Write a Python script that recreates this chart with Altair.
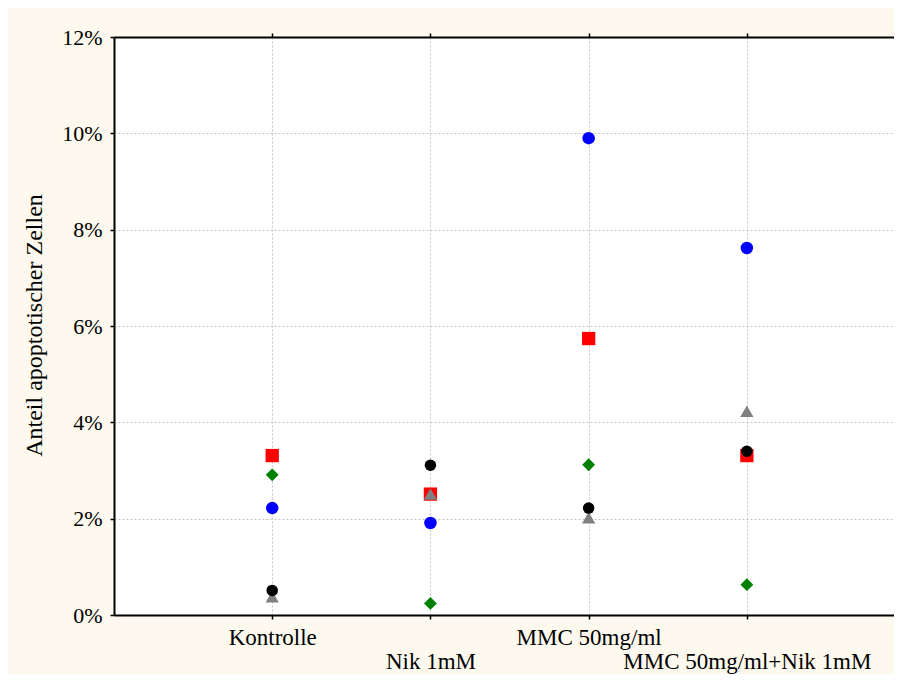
import altair as alt
import pandas as pd

categories = ["Kontrolle", "Nik 1mM", "MMC 50mg/ml", "MMC 50mg/ml+Nik 1mM"]
cat_pos = [1, 2, 3, 4]

# values in percent
blue_circle = [2.22, 1.91, 9.90, 7.62]
red_square = [3.31, 2.51, 5.74, 3.31]
green_diamond = [2.91, 0.24, 3.12, 0.63]
grey_triangle = [0.38, 2.51, 2.02, 4.23]
black_circle = [0.51, 3.11, 2.22, 3.40]

y_ticks = [0, 2, 4, 6, 8, 10, 12]

series = [
    ("blue", blue_circle, "circle", "#0000ff", 156),
    ("red", red_square, "square", "#ff0000", 177),
    ("green", green_diamond, "diamond", "#008000", 165),
    ("grey", grey_triangle, "triangle-up", "#808080", 177),
    ("black", black_circle, "circle", "#000000", 132),
]

FONT = "Liberation Serif"

label_expr = (
    "datum.value == 1 ? 'Kontrolle' : "
    "datum.value == 2 ? ['', 'Nik 1mM'] : "
    "datum.value == 3 ? 'MMC 50mg/ml' : "
    "datum.value == 4 ? ['', 'MMC 50mg/ml+Nik 1mM'] : ''"
)

x_scale = alt.Scale(domain=[0, 4.93], nice=False, zero=False)
y_scale = alt.Scale(domain=[0, 12], nice=False)

x_axis = alt.Axis(
    values=cat_pos, labelExpr=label_expr, title=None,
    grid=True, gridColor="#c4c4c4", gridDash=[2, 2], gridWidth=1,
    domainColor="black", domainWidth=2, tickColor="black", tickSize=4, tickWidth=1.5,
    labelFont=FONT, labelFontSize=23, labelColor="black", labelBaseline="alphabetic",
    labelPadding=25, labelLineHeight=24, labelOverlap=False, labelFlush=False, labelLimit=0,
)
y_axis = alt.Axis(
    values=y_ticks, labelExpr="datum.value + '%'", title="Anteil apoptotischer Zellen",
    grid=True, gridColor="#c4c4c4", gridDash=[2, 2], gridWidth=1,
    domainColor="black", domainWidth=2, tickColor="black", tickSize=4, tickWidth=1.5,
    labelFont=FONT, labelFontSize=22, labelColor="black", labelPadding=8, labelLimit=0,
    titleFont=FONT, titleFontSize=24, titleFontWeight="normal", titleColor="black",
    titleX=-73, titleY=288, titleBaseline="alphabetic", titleAngle=270,
)

layers = []
for i, (name, vals, shape, color, size) in enumerate(series):
    df = pd.DataFrame({"x": cat_pos, "y": vals, "cat": categories})
    if i == 0:
        enc_x = alt.X("x:Q", scale=x_scale, axis=x_axis)
        enc_y = alt.Y("y:Q", scale=y_scale, axis=y_axis)
    else:
        enc_x = alt.X("x:Q", scale=x_scale)
        enc_y = alt.Y("y:Q", scale=y_scale)
    layers.append(
        alt.Chart(df).mark_point(filled=True, shape=shape, color=color, size=size, opacity=1)
        .encode(x=enc_x, y=enc_y)
    )

points = alt.layer(*layers)

# top frame axis
top_df = pd.DataFrame({"x": cat_pos})
top = alt.Chart(top_df).mark_point(opacity=0).encode(
    x=alt.X("x:Q", scale=x_scale, axis=alt.Axis(orient="top", values=cat_pos, labels=False, title=None,
                                                grid=False, domainColor="black", domainWidth=2,
                                                tickColor="black", tickSize=4, tickWidth=1.5)),
    y=alt.value(0),
)

chart = alt.layer(points, top).resolve_axis(x="independent").properties(
    width=780, height=578,
    autosize=alt.AutoSizeParams(type="none"),
    padding={"left": 106, "top": 29, "right": 0, "bottom": 59},
    background="#fdf9ee",
).configure_view(fill="white", strokeWidth=0)

chart.save("out.html", embed_options={"renderer": "svg", "actions": False})
